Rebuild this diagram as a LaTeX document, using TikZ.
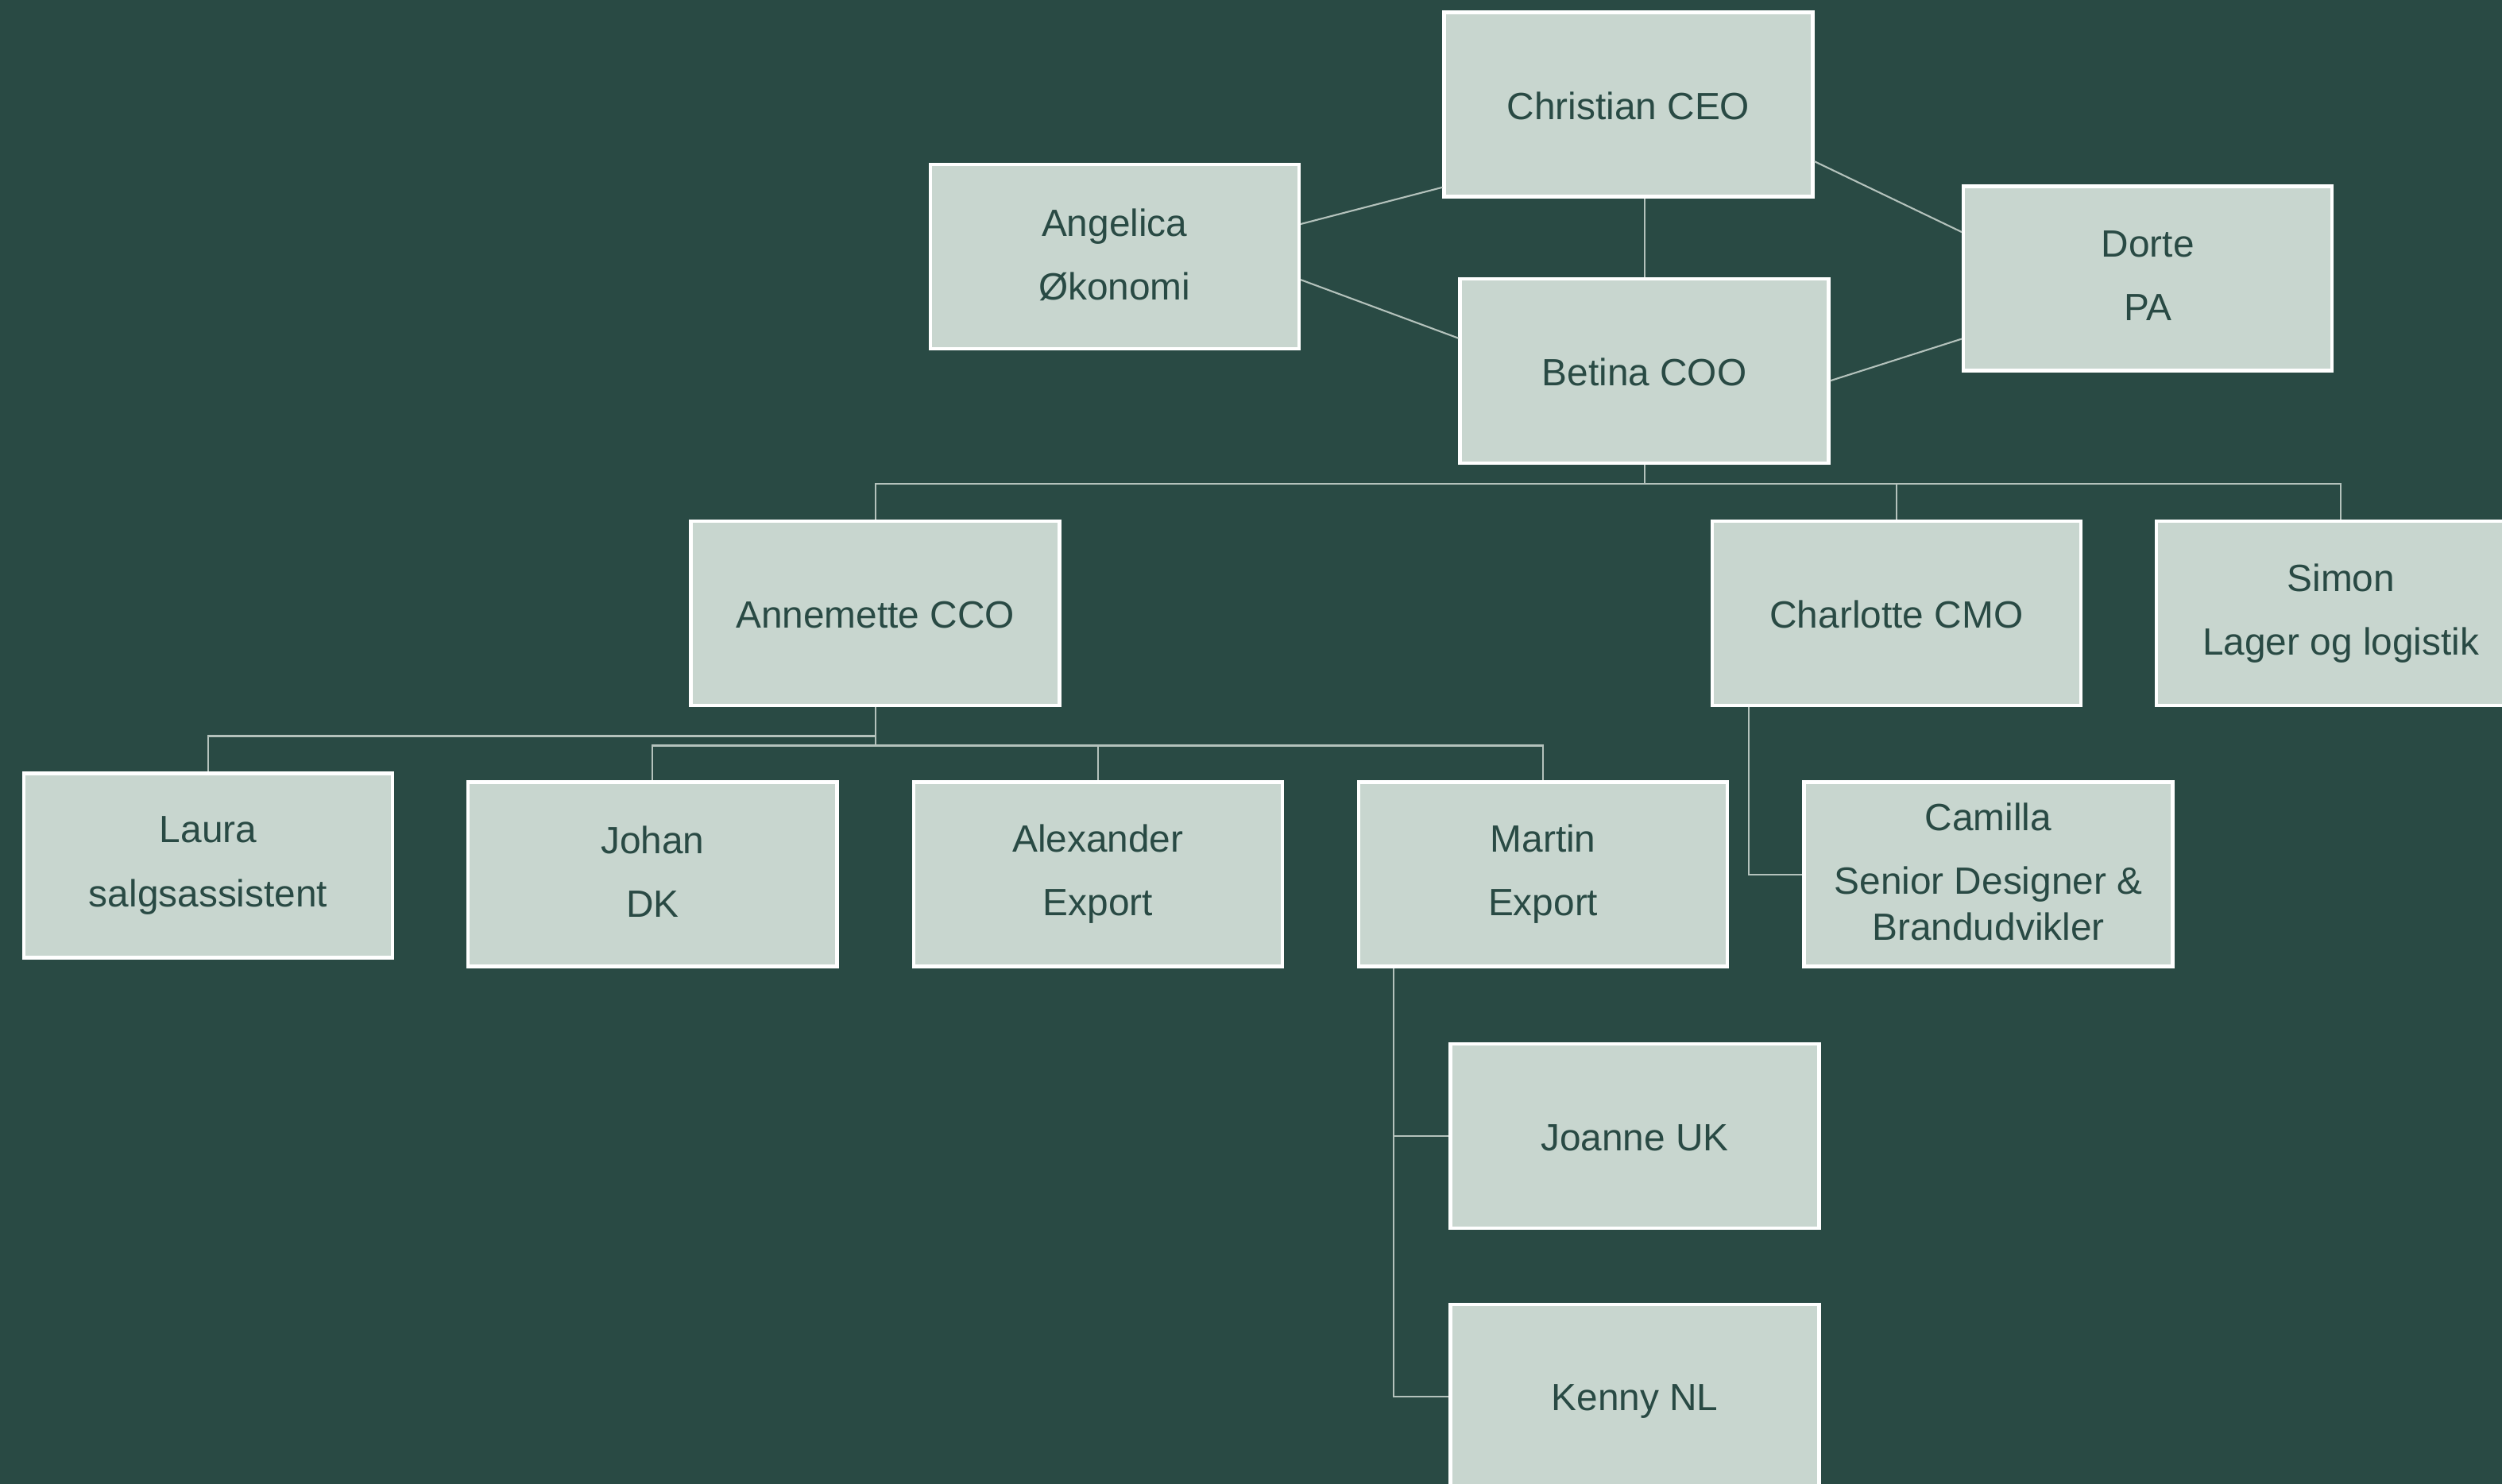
\documentclass[tikz,border=0pt]{standalone}
\usepackage{fontspec}
\setmainfont{Liberation Sans}
\usetikzlibrary{positioning}
\definecolor{bgGreen}{HTML}{294A44}
\definecolor{boxGreen}{HTML}{C8D6CF}
\definecolor{lineGrey}{HTML}{B4C2BC}
\newcommand{\vstrut}{\rule[-2pt]{0pt}{14.6pt}}
\tikzset{
    person/.style = {draw=white, fill=boxGreen, rectangle, line width=1.2pt,
        minimum height=2.32cm,
        minimum width=4.64cm, align=center,
        text=bgGreen, font=\fontsize{13.6}{16.5}\selectfont,
        execute at begin node=\vstrut, execute at end node=\vstrut},
    link/.style = {draw=lineGrey, line width=0.6pt}
}

\begin{document}
\begin{tikzpicture}[x=0.020083cm, y=-0.020083cm, node distance=5.603cm]
    \fill [bgGreen] (0,0) rectangle (1568,930);
    \useasboundingbox (0,0) rectangle (1568,930);
    % top management
    \node [person] (christian) at (1020.5,65.5) {Christian CEO};
    \node [person] (angelica) at (698.5,161) {Angelica\\[6.3pt]Økonomi};
    \node [person] (dorte) at (1346,174.5) {Dorte\\[6.3pt]PA};
    \node [person] (betina) at (1030.5,232.5) {Betina COO};
    \draw [link] (betina.north) -- (betina.north |- christian.south);
    \draw [link] (angelica.10) -- (christian.204);
    \draw [link] (angelica.-7) -- (betina.170);
    \draw [link] (christian.-17) -- (dorte.166);
    \draw [link] (betina.-3) -- (dorte.198);
    % chiefs
    \node [person] (annemette) at (548.5,384.5) {Annemette CCO};
    \node [person] (charlotte) at (1188.5,384.5) {Charlotte CMO};
    \node [person, right of=charlotte, node distance=5.593cm] (simon) {Simon\\[6.3pt]Lager og logistik};
    \draw [link] (betina.south) -- ++(0,12) coordinate (topbus) -| (annemette.north);
    \draw [link] (topbus) -| (charlotte.north);
    \draw [link] (topbus) -| (simon.north);
    % sales
    \node [person] (laura) at (130.5,542.5) {Laura\\[6.3pt]salgsassistent};
    \node [person] (johan) at (409,548) {Johan\\[6.3pt]DK};
    \node [person, right of=johan] (alexander) {Alexander\\[6.3pt]Export};
    \node [person, right of=alexander] (martin) {Martin\\[6.3pt]Export};
    \node [person, right of=martin] (camilla) {Camilla\\[6.3pt]Senior Designer \&\\Brandudvikler};
    \draw [link] (annemette.south) -- ++(0,18) coordinate (lbus) -| (laura.north);
    \draw [link] (annemette.south) -- ++(0,24) coordinate (rbus) -| (johan.north);
    \draw [link] (rbus) -| (alexander.north);
    \draw [link] (rbus) -| (martin.north);
    \draw [link] (charlotte.south west) ++(24,0) |- (camilla.west);
    % export
    \node [person] (joanne) at (1024.5,712) {Joanne UK};
    \node [person, below of=joanne, node distance=3.284cm] (kenny) {Kenny NL};
    \draw [link] (martin.south west) ++(23,0) |- (joanne.west);
    \draw [link] (martin.south west) ++(23,0) |- (kenny.west);
\end{tikzpicture}
\end{document}
